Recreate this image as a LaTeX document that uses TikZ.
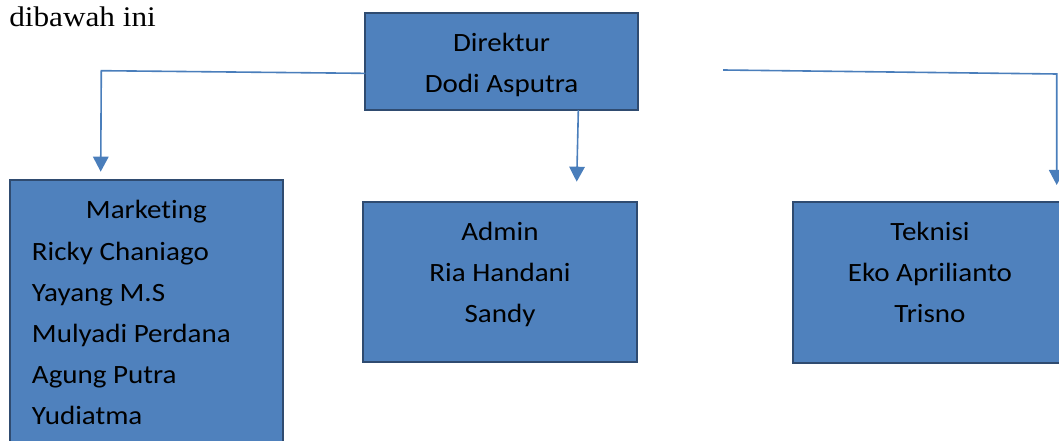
\documentclass[tikz,border=0pt]{standalone}
\usepackage{fontspec}
\setmainfont{Carlito}[FakeStretch=1.1, Ligatures=NoCommon]
\newfontfamily\serifrm{Liberation Serif}[FakeStretch=1.1]
\usetikzlibrary{arrows.meta,calc}
\definecolor{boxfill}{HTML}{4F81BD}
\definecolor{boxline}{HTML}{2F4B70}
\definecolor{conncol}{HTML}{4A7EBB}
\begin{document}
\begin{tikzpicture}[x=0.75pt,y=-0.75pt,
  orgbox/.style={draw=boxline, fill=boxfill, line width=1.5pt, inner sep=0pt, outer sep=0pt},
  orgtext/.style={font=\fontsize{19.8}{30.75}\selectfont, text=black, inner sep=0pt, align=center, anchor=base},
  conn/.style={draw=conncol, line width=1.2pt, -{Triangle[width=11.6pt,length=11.25pt]}}]
\useasboundingbox (0,0) rectangle (1059,441);
\clip (0,0) rectangle (1059,441);
% intro text
\node[font=\serifrm\fontsize{21.3}{26}\selectfont, inner sep=0pt, anchor=base west] (intro) at (9,26.7) {dibawah ini};
% boxes
\node[orgbox, minimum width=204.75pt, minimum height=73pt] (dir) at (501.8,61.35) {};
\node[orgbox, minimum width=204.5pt, minimum height=217.5pt] (mkt) at (146.35,325) {};
\node[orgbox, minimum width=205pt, minimum height=120.45pt] (adm) at (500,282) {};
\node[orgbox, minimum width=205.5pt, minimum height=120.75pt] (tek) at (930,282.5) {};
% texts (base anchor = baseline of the last line)
\node[orgtext] (dirtext) at (501.5,92.7) {Direktur\\Dodi Asputra};
\node[orgtext] (mkttitle) at (146.3,218.3) {Marketing};
\node[orgtext, align=left, anchor=base west] (mktnames) at (31.7,424) {Ricky Chaniago\\Yayang M.S\\Mulyadi Perdana\\Agung Putra\\Yudiatma};
\node[orgtext] (admtext) at (500,322.7) {Admin\\Ria Handani\\Sandy};
\node[orgtext] (tektext) at (930,323) {Teknisi\\Eko Aprilianto\\Trisno};
% connectors
\coordinate (lbend) at (101.3,70.7);
\coordinate (ltip) at (100.7,171.7);
\draw[conn] ([yshift=-9pt]dir.west) -- (lbend) -- (ltip);
\coordinate (mtip) at (576.7,181.7);
\draw[conn] ([xshift=57.4pt]dir.south) -- (mtip);
\coordinate (rstart) at (723,70);
\coordinate (rbend) at (1056.7,74);
\coordinate (rtip) at (1056.7,185);
\draw[conn] (rstart) -- (rbend) -- (rtip);
\end{tikzpicture}
\end{document}
